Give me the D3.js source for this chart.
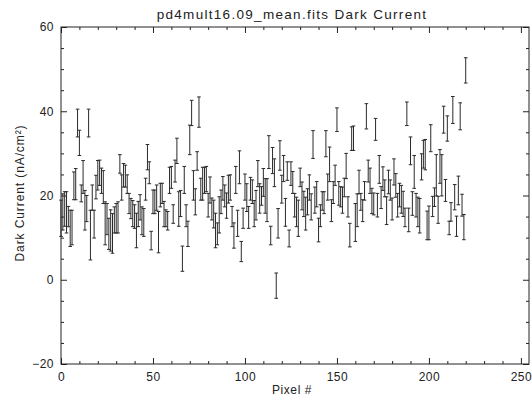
<!DOCTYPE html>
<html>
<head>
<meta charset="utf-8">
<script src="https://cdn.jsdelivr.net/npm/d3@7"></script>
<style>
  body { margin: 0; background: #fff; }
  svg text { font-family: "Liberation Sans", Arial, sans-serif; fill: #222; }
</style>
</head>
<body>
<script>
// mean dark current per pixel
const current = [
  14.6,16.1,16.8,16.0,15.0,12.2,12.4,22.3,22.7,37.2,32.5,20.5,24.4,16.5,16.9,37.2,10.6,19.5,13.2,22.0,
  24.8,25.4,23.5,22.0,13.4,14.4,10.9,11.7,11.0,14.2,14.6,14.8,27.5,21.9,24.8,24.6,22.7,18.1,16.9,15.7,
  15.0,11.7,15.6,17.2,14.0,13.6,21.5,29.1,25.4,9.3,18.5,18.5,19.5,11.3,20.1,20.5,15.6,14.6,14.0,23.6,
  24.3,15.6,25.8,30.6,16.8,18.1,5.0,
  23.7,15.2,10.9,33.2,39.6,22.4,18.5,28.2,39.8,21.5,22.8,23.6,23.9,17.7,21.3,16.8,15.6,11.7,10.9,15.4,
  18.5,21.7,19.9,17.6,21.5,21.9,15.0,10.5,23.7,13.4,26.7,6.7,14.6,22.0,19.5,14.8,21.6,20.9,15.7,17.7,
  25.2,19.3,19.9,23.1,19.9,18.9,30.3,10.5,28.3,25.4,-1.4,13.4,29.5,21.5,26.4,16.0,25.8,9.8,25.2,23.1,
  17.7,16.1,14.6,24.3,19.9,
  18.0,15.7,18.5,21.9,17.3,32.1,18.9,20.3,11.8,15.2,18.7,18.3,32.3,22.0,27.4,16.4,20.7,24.8,38.0,20.5,
  19.7,18.9,21.9,27.0,17.3,10.6,33.5,33.6,13.6,16.5,23.2,18.5,16.4,21.1,38.8,25.8,23.5,18.7,18.0,35.7,
  17.7,26.2,19.5,24.0,21.7,16.4,23.2,21.3,16.8,25.6,22.4,17.7,20.1,19.1,18.0,14.8,39.4,14.2,30.6,18.1,
  25.6,17.7,16.1,15.2,26.8,29.8,
  29.7,12.9,13.5,33.6,17.4,19.6,24.8,16.6,26.9,24.8,38.0,21.2,35.9,12.3,16.1,40.3,19.6,12.7,21.2,38.8,
  17.7,12.5,49.7
];
// one-sigma error for each pixel
const errors = [
  4.3,4.3,4.1,4.9,2.4,4.3,4.1,3.3,3.7,3.3,3.0,2.0,3.9,4.7,3.1,3.3,5.9,3.0,3.3,2.8,
  3.5,3.0,3.0,3.9,5.1,3.7,3.7,4.9,4.7,3.1,3.5,3.7,2.2,3.0,2.8,2.6,2.2,2.4,2.4,3.1,
  2.8,4.1,3.0,3.0,3.3,3.3,2.6,3.0,2.6,2.2,2.8,2.8,3.0,4.9,2.8,2.4,3.0,2.0,2.2,3.1,
  2.6,2.2,2.6,3.0,4.1,3.1,3.0,
  3.2,2.6,3.0,3.5,3.0,3.5,3.1,2.2,3.6,2.6,3.9,3.1,3.0,2.8,3.1,2.6,3.3,4.1,2.6,4.3,
  2.8,2.8,2.6,3.0,3.3,3.0,2.4,3.0,3.2,3.1,3.9,2.4,2.4,3.1,3.3,2.6,2.7,2.8,3.1,3.5,
  3.1,3.5,2.2,3.3,4.1,5.1,3.9,2.2,3.1,3.3,3.0,3.5,3.5,3.3,3.1,3.3,2.2,2.0,2.8,2.6,
  2.8,3.5,4.3,2.2,3.3,
  3.0,3.9,3.1,3.0,3.1,3.3,3.1,3.0,2.8,2.6,2.2,2.6,3.1,3.1,4.1,2.6,2.6,2.4,2.8,2.8,
  2.4,3.1,2.2,3.0,2.4,2.8,2.8,2.9,4.5,3.9,2.8,2.0,2.6,2.2,3.0,2.6,3.0,3.0,2.6,2.6,
  2.8,3.3,2.6,2.8,2.0,3.3,2.8,2.4,2.6,3.1,2.8,2.8,2.8,3.3,3.0,2.2,2.8,2.8,3.3,2.8,
  3.9,2.8,3.5,4.1,3.1,3.3,
  3.6,3.4,4.0,3.2,2.4,2.2,4.9,3.2,4.0,4.9,3.2,2.6,3.0,1.6,2.2,3.2,3.0,2.4,3.4,3.2,
  2.6,3.0,3.0
];
const pixels = current.map((d, i) => i);

const xMajor = [0, 50, 100, 150, 200, 250];
const yMajor = [-20, 0, 20, 40, 60];

const w = 532, h = 400;
const plotLeft = 61, plotRight = 529, plotTop = 27, plotBottom = 364;

const x = d3.scaleLinear().domain([0, 254.4]).range([plotLeft, plotRight]);
const y = d3.scaleLinear().domain([-20, 60]).range([plotBottom, plotTop]);

const xMinor = d3.range(0, 255, 10).filter(v => v % 50 != 0);
const yMinor = d3.range(-20, 61, 5).filter(v => v % 20 != 0);

const svg = d3.select("body").append("svg")
  .attr("width", w)
  .attr("height", h);

// frame
svg.append("rect")
  .attr("x", plotLeft).attr("y", plotTop)
  .attr("width", plotRight - plotLeft).attr("height", plotBottom - plotTop)
  .attr("fill", "none").attr("stroke", "#222").attr("stroke-width", 1);

function drawAxis(axis, tx, ty, labels) {
  const g = svg.append("g")
    .attr("transform", "translate(" + tx + "," + ty + ")")
    .call(axis);
  g.select(".domain").remove();
  g.selectAll("line").attr("stroke", "#222");
  g.selectAll("text").style("font-size", "12px").style("letter-spacing", "0.5px").attr("fill", "#222");
  if (!labels) g.selectAll("text").remove();
  return g;
}

// major + minor ticks, pointing in, on all four sides
drawAxis(d3.axisBottom(x).tickValues(xMajor).tickSize(-6).tickSizeOuter(0).tickPadding(8), 0, plotBottom, true);
drawAxis(d3.axisBottom(x).tickValues(xMinor).tickSize(-3).tickSizeOuter(0), 0, plotBottom, false);
drawAxis(d3.axisTop(x).tickValues(xMajor).tickSize(-6).tickSizeOuter(0), 0, plotTop, false);
drawAxis(d3.axisTop(x).tickValues(xMinor).tickSize(-3).tickSizeOuter(0), 0, plotTop, false);
drawAxis(d3.axisLeft(y).tickValues(yMajor).tickSize(-6).tickSizeOuter(0).tickPadding(7)
  .tickFormat(d => d < 0 ? "\u2212" + Math.abs(d) : d), plotLeft, 0, true);
drawAxis(d3.axisLeft(y).tickValues(yMinor).tickSize(-3).tickSizeOuter(0), plotLeft, 0, false);
drawAxis(d3.axisRight(y).tickValues(yMajor).tickSize(-6).tickSizeOuter(0), plotRight, 0, false);
drawAxis(d3.axisRight(y).tickValues(yMinor).tickSize(-3).tickSizeOuter(0), plotRight, 0, false);

// error bars
const bars = svg.append("g")
  .attr("stroke", "#2a2a2a")
  .attr("stroke-width", 1);

bars.selectAll("line.bar")
  .data(pixels)
  .enter()
  .append("line")
    .attr("class", "bar")
    .attr("x1", i => x(i)).attr("x2", i => x(i))
    .attr("y1", i => y(current[i] - errors[i]))
    .attr("y2", i => y(current[i] + errors[i]));

bars.selectAll("line.cap-hi")
  .data(pixels)
  .enter()
  .append("line")
    .attr("class", "cap-hi")
    .attr("x1", i => x(i) - 1.8).attr("x2", i => x(i) + 1.8)
    .attr("y1", i => y(current[i] + errors[i]))
    .attr("y2", i => y(current[i] + errors[i]));

bars.selectAll("line.cap-lo")
  .data(pixels)
  .enter()
  .append("line")
    .attr("class", "cap-lo")
    .attr("x1", i => x(i) - 1.8).attr("x2", i => x(i) + 1.8)
    .attr("y1", i => y(current[i] - errors[i]))
    .attr("y2", i => y(current[i] - errors[i]));

// title and axis labels
svg.append("text")
  .attr("x", 292).attr("y", 19)
  .attr("text-anchor", "middle")
  .style("font-size", "13.5px")
  .style("letter-spacing", "1.3px")
  .text("pd4mult16.09_mean.fits Dark Current");

svg.append("text")
  .attr("x", 292).attr("y", 394)
  .attr("text-anchor", "middle")
  .style("font-size", "12px")
  .style("letter-spacing", "0.6px")
  .text("Pixel #");

svg.append("text")
  .attr("transform", "translate(24," + 193 + ") rotate(-90)")
  .attr("text-anchor", "middle")
  .style("font-size", "12px")
  .style("letter-spacing", "0.9px")
  .text("Dark Current (nA/cm²)");
</script>
</body>
</html>
